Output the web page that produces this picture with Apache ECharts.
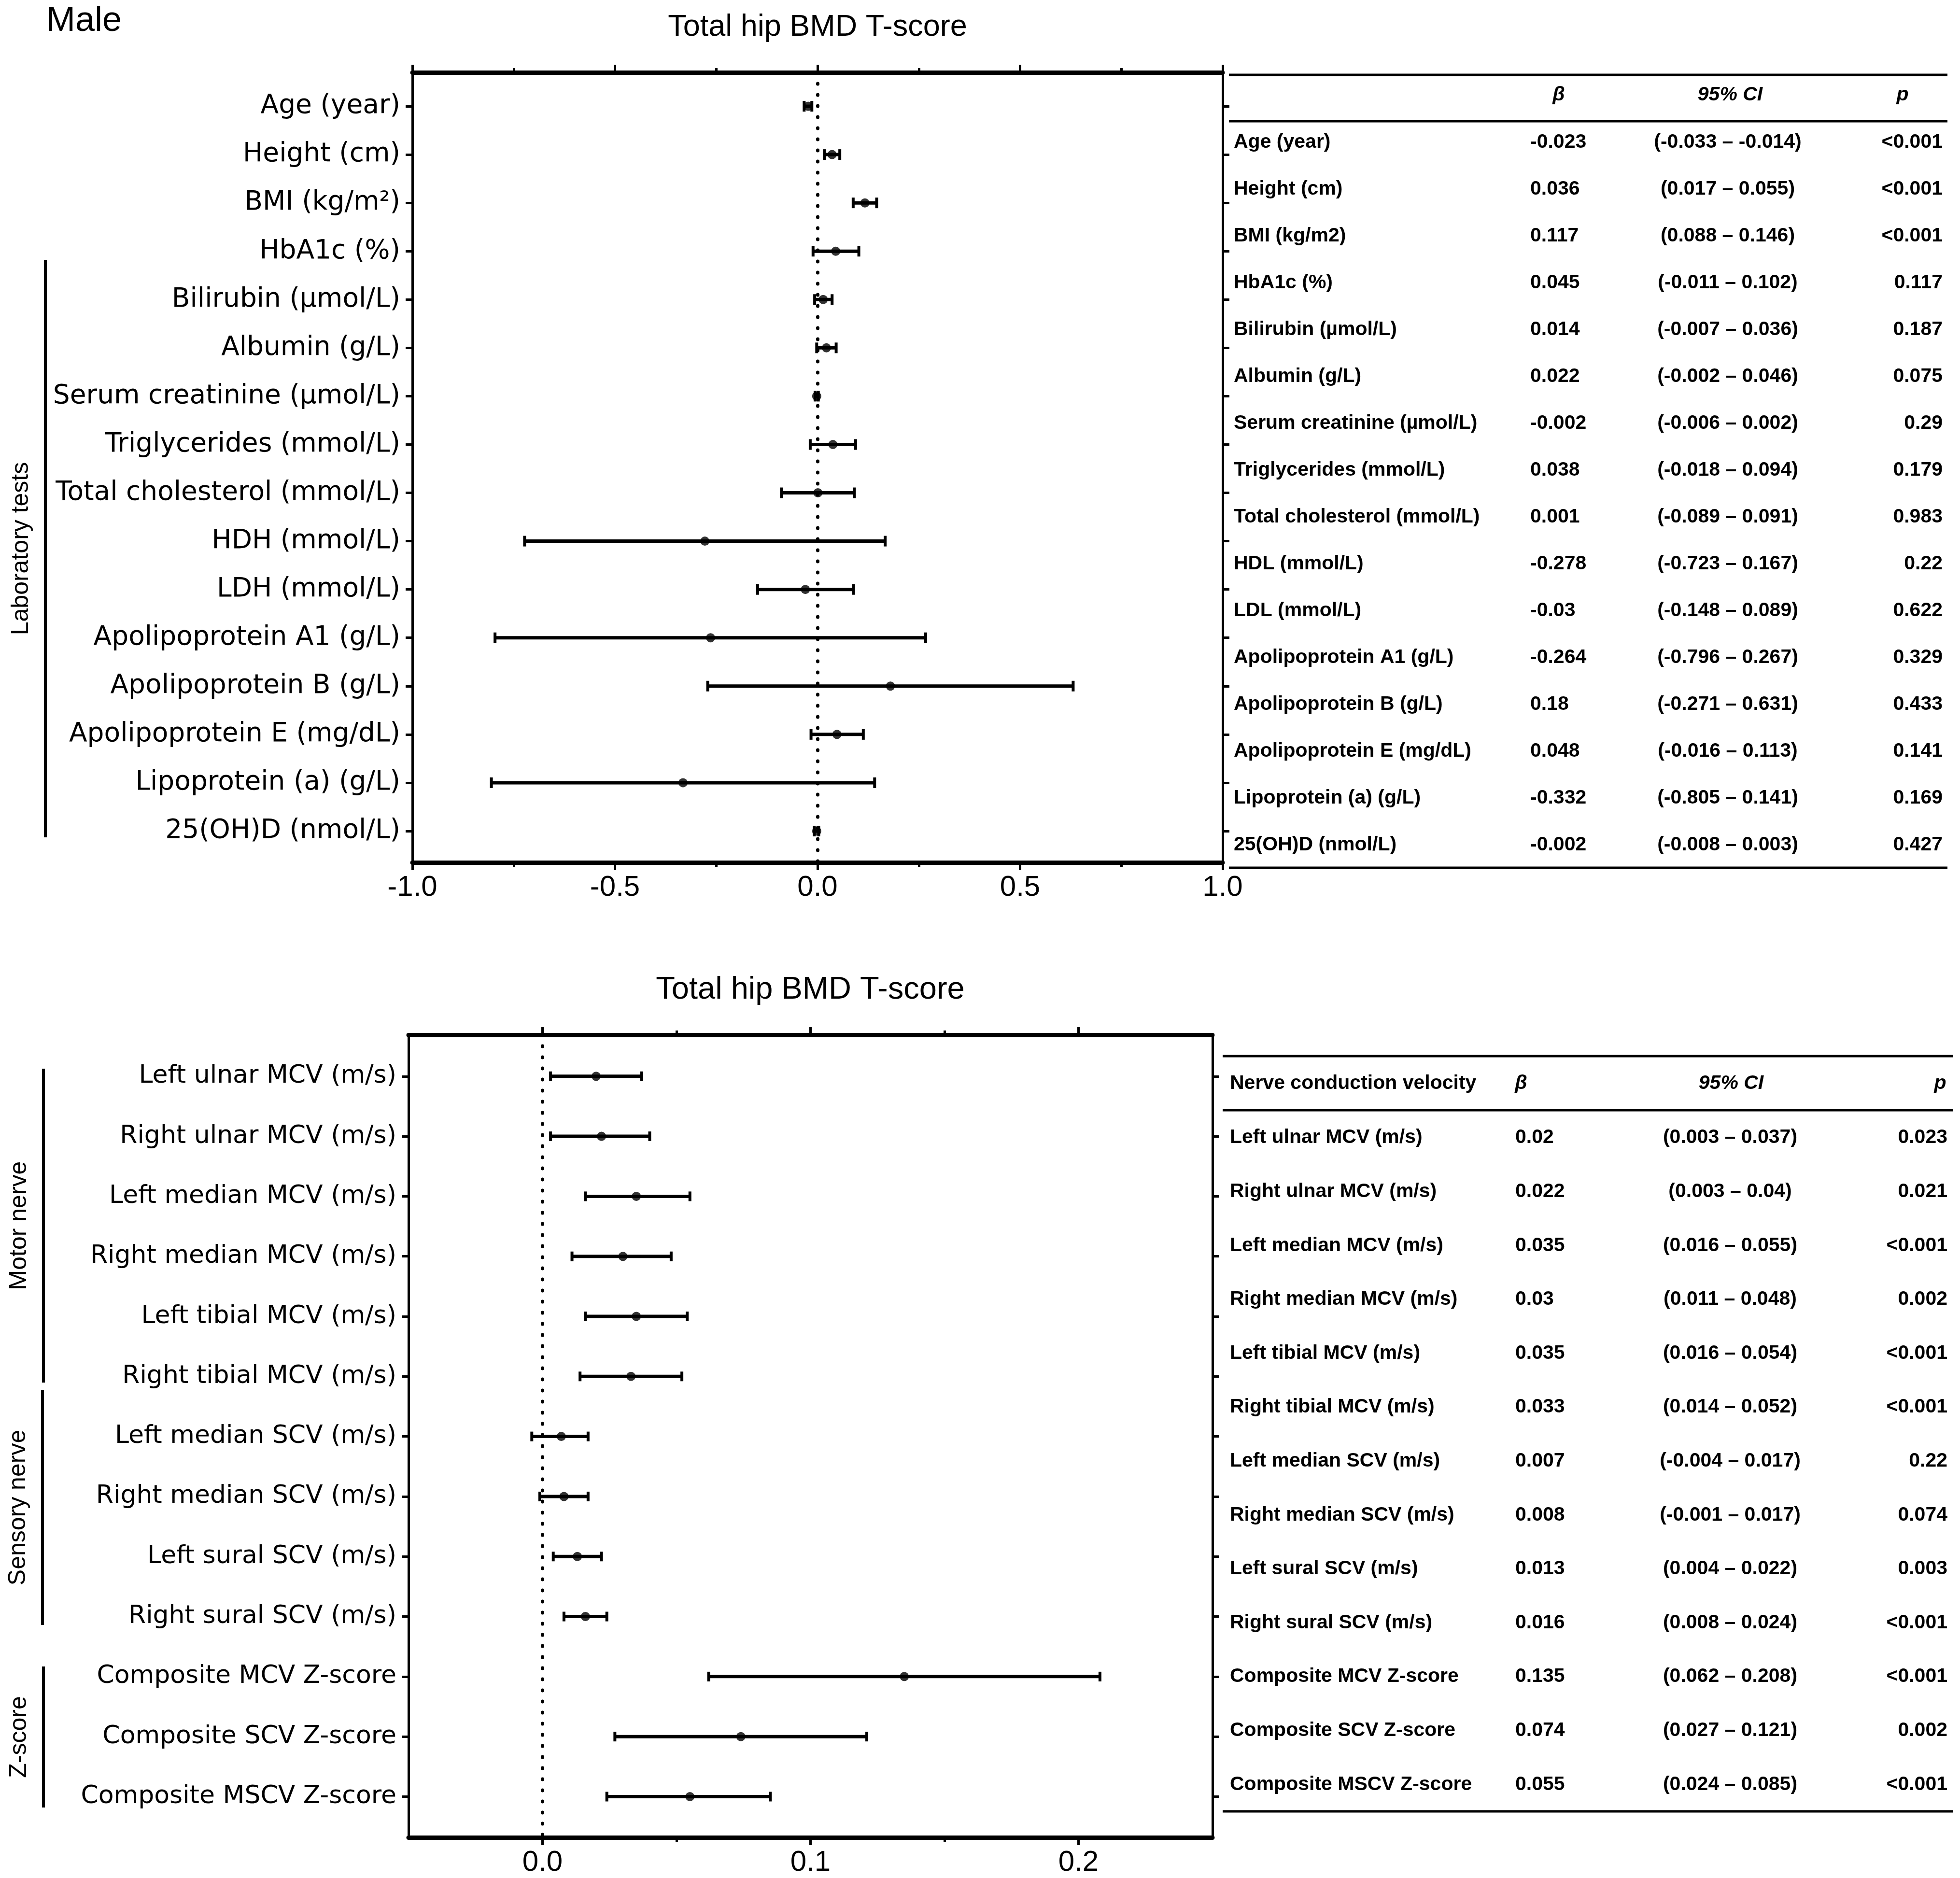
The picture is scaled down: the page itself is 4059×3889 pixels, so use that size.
<!DOCTYPE html>
<html><head><meta charset="utf-8">
<script src="https://cdn.jsdelivr.net/npm/echarts@6/dist/echarts.min.js"></script>
<style>html,body{margin:0;padding:0;background:#fff}#c{width:4059px;height:3889px}</style>
</head><body><div id="c"></div>
<script>
// ---------- DATA ----------
const topLabels = ['Age (year)','Height (cm)','BMI (kg/m\u00B2)','HbA1c (%)','Bilirubin (\u00B5mol/L)','Albumin (g/L)','Serum creatinine (\u00B5mol/L)','Triglycerides (mmol/L)','Total cholesterol (mmol/L)','HDH (mmol/L)','LDH (mmol/L)','Apolipoprotein A1 (g/L)','Apolipoprotein B (g/L)','Apolipoprotein E (mg/dL)','Lipoprotein (a) (g/L)','25(OH)D (nmol/L)'];
const topTableNames = ['Age (year)','Height (cm)','BMI (kg/m2)','HbA1c (%)','Bilirubin (\u00B5mol/L)','Albumin (g/L)','Serum creatinine (\u00B5mol/L)','Triglycerides (mmol/L)','Total cholesterol (mmol/L)','HDL (mmol/L)','LDL (mmol/L)','Apolipoprotein A1 (g/L)','Apolipoprotein B (g/L)','Apolipoprotein E (mg/dL)','Lipoprotein (a) (g/L)','25(OH)D (nmol/L)'];
const topBeta = [-0.023,0.036,0.117,0.045,0.014,0.022,-0.002,0.038,0.001,-0.278,-0.03,-0.264,0.18,0.048,-0.332,-0.002];
const topLow  = [-0.033,0.017,0.088,-0.011,-0.007,-0.002,-0.006,-0.018,-0.089,-0.723,-0.148,-0.796,-0.271,-0.016,-0.805,-0.008];
const topHigh = [-0.014,0.055,0.146,0.102,0.036,0.046,0.002,0.094,0.091,0.167,0.089,0.267,0.631,0.113,0.141,0.003];
const topP = ['<0.001','<0.001','<0.001','0.117','0.187','0.075','0.29','0.179','0.983','0.22','0.622','0.329','0.433','0.141','0.169','0.427'];

const botLabels = ['Left ulnar MCV (m/s)','Right ulnar MCV (m/s)','Left median MCV (m/s)','Right median MCV (m/s)','Left tibial MCV (m/s)','Right tibial MCV (m/s)','Left median SCV (m/s)','Right median SCV (m/s)','Left sural SCV (m/s)','Right sural SCV (m/s)','Composite MCV Z-score','Composite SCV Z-score','Composite MSCV Z-score'];
const botBeta = [0.02,0.022,0.035,0.03,0.035,0.033,0.007,0.008,0.013,0.016,0.135,0.074,0.055];
const botLow  = [0.003,0.003,0.016,0.011,0.016,0.014,-0.004,-0.001,0.004,0.008,0.062,0.027,0.024];
const botHigh = [0.037,0.04,0.055,0.048,0.054,0.052,0.017,0.017,0.022,0.024,0.208,0.121,0.085];
const botP = ['0.023','0.021','<0.001','0.002','<0.001','<0.001','0.22','0.074','0.003','<0.001','<0.001','0.002','<0.001'];
const botMajorTicks = [0.0,0.1,0.2];
const botMinorTicks = [0.05,0.15];

const titleText = 'Total hip BMD T-score';
const panelText = 'Male';
const groupsTop = [{name:'Laboratory tests', x:44, y1:538, y2:1734}];
const groupsBot = [{name:'Motor nerve', x:40, y1:2213, y2:2863},{name:'Sensory nerve', x:38, y1:2879, y2:3365},{name:'Z-score', x:40, y1:3451, y2:3743}];

// ---------- CHART ----------
const chart = echarts.init(document.getElementById('c'), null, {renderer:'canvas'});
const BLACK = '#000';
const idx = a => a.map((_, i) => i);

function errRender(capHalf){
  return function(params, api){
    const lo = api.coord([api.value(0), api.value(2)]);
    const hi = api.coord([api.value(1), api.value(2)]);
    const st = {stroke:BLACK, lineWidth:7};
    return {type:'group', children:[
      {type:'line', shape:{x1:lo[0],y1:lo[1],x2:hi[0],y2:hi[1]}, style:st},
      {type:'line', shape:{x1:lo[0],y1:lo[1]-capHalf,x2:lo[0],y2:lo[1]+capHalf}, style:{stroke:BLACK,lineWidth:6}},
      {type:'line', shape:{x1:hi[0],y1:hi[1]-capHalf,x2:hi[0],y2:hi[1]+capHalf}, style:{stroke:BLACK,lineWidth:6}}
    ]};
  };
}

const catAxisBase = (grid, pos, labels, min, max, show, fs, mg) => ({
  type:'value', gridIndex:grid, position:pos, inverse:true, min:min, max:max,
  axisLine:{show:true, onZero:false, lineStyle:{color:BLACK, width:5}},
  axisTick:{show:true, customValues: idx(labels), length:14, lineStyle:{color:BLACK, width:5}},
  axisLabel:{show:show, customValues: idx(labels), formatter: v => labels[Math.round(v)] || '',
    fontFamily:'DejaVu Sans', fontSize:fs, color:BLACK, margin:mg},
  splitLine:{show:false}
});

const dotLine = {silent:true, symbol:'none', label:{show:false}, animation:false,
  lineStyle:{color:BLACK, width:7, type:[1,22], cap:'round'}, data:[{xAxis:0}]};

const option = {
  backgroundColor:'#fff',
  animation:false,
  grid:[
    {left:854, top:150, width:1678, height:1636},
    {left:846, top:2143, width:1665, height:1662}
  ],
  xAxis:[
    {type:'value', gridIndex:0, position:'bottom', min:-1, max:1, interval:0.5,
      axisLine:{onZero:false, lineStyle:{color:BLACK, width:9}},
      axisTick:{length:16, lineStyle:{color:BLACK, width:5}},
      minorTick:{show:true, splitNumber:2, length:9, lineStyle:{color:BLACK, width:5}},
      axisLabel:{fontFamily:'Liberation Sans', fontSize:60, color:BLACK, margin:22, formatter:v => v.toFixed(1)},
      splitLine:{show:false}},
    {type:'value', gridIndex:0, position:'top', min:-1, max:1, interval:0.5,
      axisLine:{onZero:false, lineStyle:{color:BLACK, width:9}},
      axisTick:{length:16, lineStyle:{color:BLACK, width:5}},
      minorTick:{show:true, splitNumber:2, length:9, lineStyle:{color:BLACK, width:5}},
      axisLabel:{show:false}, splitLine:{show:false}},
    {type:'value', gridIndex:1, position:'bottom', min:-0.05, max:0.25,
      axisLine:{onZero:false, lineStyle:{color:BLACK, width:9}},
      axisTick:{customValues:botMajorTicks, length:16, lineStyle:{color:BLACK, width:5}},
      axisLabel:{customValues:botMajorTicks, fontFamily:'Liberation Sans', fontSize:60, color:BLACK, margin:22, formatter:v => v.toFixed(1)},
      splitLine:{show:false}},
    {type:'value', gridIndex:1, position:'bottom', min:-0.05, max:0.25,
      axisLine:{show:false, onZero:false},
      axisTick:{customValues:botMinorTicks, length:9, lineStyle:{color:BLACK, width:5}},
      axisLabel:{show:false}, splitLine:{show:false}},
    {type:'value', gridIndex:1, position:'top', min:-0.05, max:0.25,
      axisLine:{onZero:false, lineStyle:{color:BLACK, width:9}},
      axisTick:{customValues:botMajorTicks, length:16, lineStyle:{color:BLACK, width:5}},
      axisLabel:{show:false}, splitLine:{show:false}},
    {type:'value', gridIndex:1, position:'top', min:-0.05, max:0.25,
      axisLine:{show:false, onZero:false},
      axisTick:{customValues:botMinorTicks, length:9, lineStyle:{color:BLACK, width:5}},
      axisLabel:{show:false}, splitLine:{show:false}}
  ],
  yAxis:[
    catAxisBase(0, 'left', topLabels, -0.7, 15.65, true, 55, 25),
    catAxisBase(0, 'right', topLabels, -0.7, 15.65, false, 55, 25),
    catAxisBase(1, 'left', botLabels, -0.69, 12.68, true, 52, 25),
    catAxisBase(1, 'right', botLabels, -0.69, 12.68, false, 52, 25)
  ],
  series:[
    {type:'custom', xAxisIndex:0, yAxisIndex:0, renderItem:errRender(11), encode:{x:[0,1], y:2},
      data: topLow.map((l,i) => [l, topHigh[i], i]), markLine:dotLine, z:2},
    {type:'scatter', xAxisIndex:0, yAxisIndex:0, symbol:'circle', symbolSize:19, itemStyle:{color:BLACK},
      data: topBeta.map((b,i) => [b, i]), z:3},
    {type:'custom', xAxisIndex:2, yAxisIndex:2, renderItem:errRender(10), encode:{x:[0,1], y:2},
      data: botLow.map((l,i) => [l, botHigh[i], i]), markLine:dotLine, z:2},
    {type:'scatter', xAxisIndex:2, yAxisIndex:2, symbol:'circle', symbolSize:19, itemStyle:{color:BLACK},
      data: botBeta.map((b,i) => [b, i]), z:3}
  ],
  graphic: []
};

// ---------- TEXT, TABLES, BRACKETS ----------
const g = [];
const txt = (x, y, text, o) => g.push({type:'text', x:x, y:y, rotation:(o && o.rot) || 0, silent:true,
  style:Object.assign({text:text, fill:BLACK, textAlign:'left', textVerticalAlign:'middle',
    fontFamily:'Liberation Sans', fontSize:41, fontWeight:'bold'}, o && o.style)});
const hline = (x1, x2, y, w) => g.push({type:'line', silent:true, shape:{x1:x1,y1:y,x2:x2,y2:y}, style:{stroke:BLACK, lineWidth:w}});
const vline = (x, y1, y2, w) => g.push({type:'line', silent:true, shape:{x1:x,y1:y1,x2:x,y2:y2}, style:{stroke:BLACK, lineWidth:w}});

txt(96, 44, panelText, {style:{fontSize:72, fontWeight:'normal'}});
txt(1693, 57, titleText, {style:{fontSize:63, fontWeight:'normal', textAlign:'center'}});
txt(1678, 2050, titleText, {style:{fontSize:65, fontWeight:'normal', textAlign:'center'}});

const ci = (l, h) => '(' + l + ' \u2013 ' + h + ')';

function table(cfg){
  hline(cfg.x1, cfg.x2, cfg.lineTop, 5);
  hline(cfg.x1, cfg.x2, cfg.lineHead, 5);
  hline(cfg.x1, cfg.x2, cfg.lineBot, 5);
  if (cfg.headName) txt(cfg.nameX, cfg.headY, cfg.headName);
  txt(cfg.betaHX, cfg.headY, '\u03B2', {style:{textAlign:'center', fontStyle:'italic'}});
  txt(cfg.ciHX, cfg.headY, '95% CI', {style:{textAlign:'center', fontStyle:'italic'}});
  txt(cfg.pHX, cfg.headY, 'p', {style:{textAlign:'center', fontStyle:'italic'}});
  cfg.names.forEach((n, i) => {
    const y = cfg.row0 + i * cfg.step;
    txt(cfg.nameX, y, n);
    txt(cfg.betaX, y, String(cfg.beta[i]));
    txt(cfg.ciX, y, ci(cfg.lo[i], cfg.hi[i]), {style:{textAlign:'center'}});
    txt(cfg.pX, y, cfg.p[i], {style:{textAlign:'right'}});
  });
}
table({x1:2545, x2:4033, lineTop:155, lineHead:251, lineBot:1797, headY:197, headName:'',
  nameX:2555, betaX:3169, betaHX:3228, ciX:3578, ciHX:3583, pX:4023, pHX:3940,
  row0:295, step:97.0, names:topTableNames, beta:topBeta, lo:topLow, hi:topHigh, p:topP});
table({x1:2532, x2:4044, lineTop:2187, lineHead:2299, lineBot:3751, headY:2244, headName:'Nerve conduction velocity',
  nameX:2547, betaX:3138, betaHX:3150, ciX:3583, ciHX:3585, pX:4033, pHX:4018,
  row0:2356, step:111.6, names:botLabels, beta:botBeta, lo:botLow, hi:botHigh, p:botP});

groupsTop.concat(groupsBot).forEach(gr => {
  vline(gr.x + 50, gr.y1, gr.y2, 6);
  txt(gr.x, (gr.y1 + gr.y2) / 2, gr.name, {rot:Math.PI/2, style:{textAlign:'center', fontWeight:'normal', fontSize:50}});
});
option.graphic = g;
chart.setOption(option);
</script></body></html>
